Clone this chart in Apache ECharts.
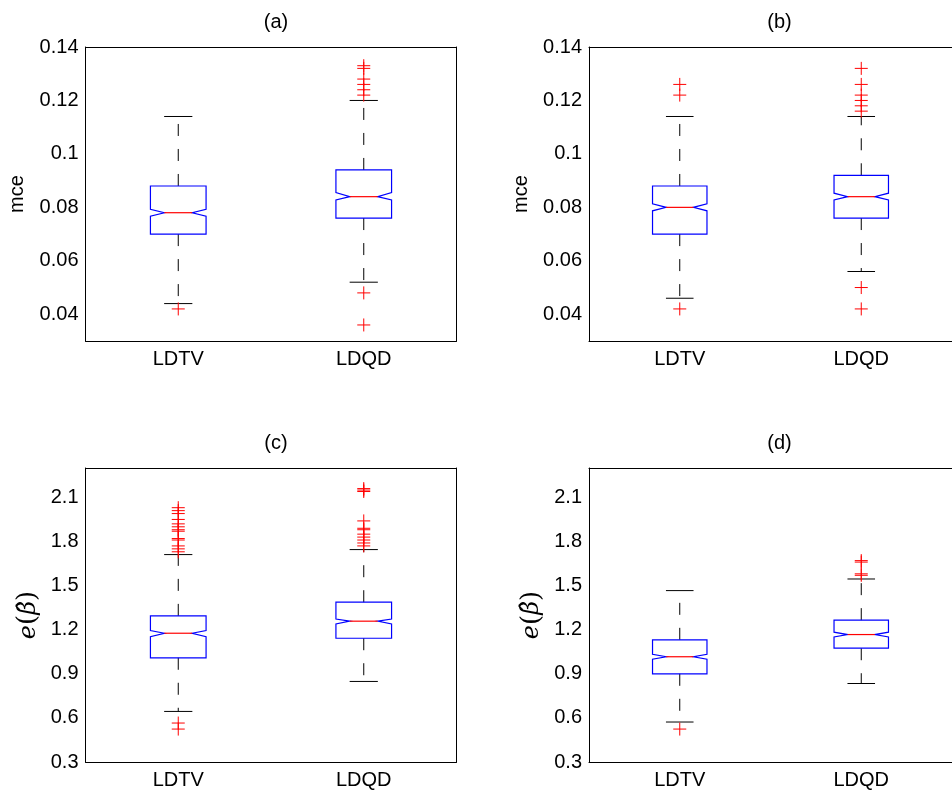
<!DOCTYPE html>
<html>
<head>
<meta charset="utf-8">
<script src="https://cdn.jsdelivr.net/npm/echarts@6/dist/echarts.min.js"></script>
<style>
  html, body { margin: 0; padding: 0; background: #fff; }
  #chart { width: 952px; height: 796px; }
</style>
</head>
<body>
<div id="chart"></div>
<script>
const categories = ['LDTV', 'LDQD'];

// box stats per category: [lowerWhisker, q1, notchLow, median, notchHigh, q3, upperWhisker]
const boxA = [
  [0.044, 0.070, 0.0767, 0.078, 0.0793, 0.088, 0.114],
  [0.052, 0.076, 0.0828, 0.084, 0.0855, 0.094, 0.120]
];
const boxB = [
  [0.046, 0.070, 0.0787, 0.080, 0.0813, 0.088, 0.114],
  [0.056, 0.076, 0.0828, 0.084, 0.0853, 0.092, 0.114]
];
const boxC = [
  [0.644, 1.009, 1.153, 1.176, 1.194, 1.294, 1.711],
  [0.848, 1.142, 1.239, 1.258, 1.273, 1.387, 1.745]
];
const boxD = [
  [0.572, 0.900, 0.999, 1.016, 1.033, 1.131, 1.466],
  [0.834, 1.074, 1.151, 1.167, 1.183, 1.265, 1.545]
];

// outliers: [categoryIndex, value]
const outA = [[0, 0.042], [1, 0.133], [1, 0.132], [1, 0.128], [1, 0.126], [1, 0.124], [1, 0.122], [1, 0.048], [1, 0.036]];
const outB = [[0, 0.126], [0, 0.122], [0, 0.042], [1, 0.132], [1, 0.126], [1, 0.122], [1, 0.120], [1, 0.118], [1, 0.116], [1, 0.050], [1, 0.042]];
const outC = [
  [0, 2.03], [0, 2.01], [0, 1.99], [0, 1.95], [0, 1.92], [0, 1.90], [0, 1.88], [0, 1.87], [0, 1.82], [0, 1.81], [0, 1.77], [0, 1.75], [0, 1.73],
  [0, 0.565], [0, 0.524],
  [1, 2.16], [1, 2.15], [1, 2.14], [1, 1.94], [1, 1.89], [1, 1.88], [1, 1.85], [1, 1.83], [1, 1.81], [1, 1.79], [1, 1.77]
];
const outD = [[0, 0.524], [1, 1.67], [1, 1.66], [1, 1.58], [1, 1.57]];

const mceTicks = [0.04, 0.06, 0.08, 0.1, 0.12, 0.14];
const betaTicks = [0.3, 0.6, 0.9, 1.2, 1.5, 1.8, 2.1];

const betaName = '{i|e}{r|(}{i|β̂}{r|)}';

const panels = [
  { title: '(a)', box: boxA, out: outA, yName: 'mce', yMin: 0.03, yMax: 0.14, ticks: mceTicks, left: 85.5, top: 47 },
  { title: '(b)', box: boxB, out: outB, yName: 'mce', yMin: 0.03, yMax: 0.14, ticks: mceTicks, left: 589, top: 47 },
  { title: '(c)', box: boxC, out: outC, yName: betaName, yMin: 0.3, yMax: 2.3, ticks: betaTicks, left: 85.5, top: 468 },
  { title: '(d)', box: boxD, out: outD, yName: betaName, yMin: 0.3, yMax: 2.3, ticks: betaTicks, left: 589, top: 468 }
];
const plotW = 371, plotH = 294;

const font = 'Liberation Sans, Arial, sans-serif';
const serif = 'DejaVu Serif, Liberation Serif, serif';
const fmt = v => String(parseFloat(Number(v).toFixed(4)));

function renderBox(params, api) {
  const c = api.value(0);
  const lw = api.value(1), q1 = api.value(2), nlo = api.value(3), med = api.value(4);
  const nhi = api.value(5), q3 = api.value(6), uw = api.value(7);
  const band = api.size([1, 0])[0];
  const h = band * 0.15, cap = band * 0.076;
  const x = api.coord([c, med])[0];
  const y = v => api.coord([c, v])[1];
  const black = { stroke: '#000', lineWidth: 1 };
  const dashed = { stroke: '#000', lineWidth: 1, lineDash: [12, 13] };
  return {
    type: 'group',
    children: [
      { type: 'line', shape: { x1: x, y1: y(q3), x2: x, y2: y(uw) }, style: dashed },
      { type: 'line', shape: { x1: x, y1: y(q1), x2: x, y2: y(lw) }, style: dashed },
      { type: 'line', shape: { x1: x - cap, y1: y(uw), x2: x + cap, y2: y(uw) }, style: black },
      { type: 'line', shape: { x1: x - cap, y1: y(lw), x2: x + cap, y2: y(lw) }, style: black },
      {
        type: 'polygon',
        shape: {
          points: [
            [x - h, y(q3)], [x + h, y(q3)], [x + h, y(nhi)], [x + h / 2, y(med)], [x + h, y(nlo)],
            [x + h, y(q1)], [x - h, y(q1)], [x - h, y(nlo)], [x - h / 2, y(med)], [x - h, y(nhi)]
          ]
        },
        style: { fill: 'none', stroke: '#0000ff', lineWidth: 1.2 }
      },
      { type: 'line', shape: { x1: x - h / 2, y1: y(med), x2: x + h / 2, y2: y(med) }, style: { stroke: '#ff0000', lineWidth: 1.2 } }
    ]
  };
}

function renderPlus(params, api) {
  const p = api.coord([api.value(0), api.value(1)]);
  const s = 6.5;
  const st = { stroke: '#ff0000', lineWidth: 1 };
  return {
    type: 'group',
    children: [
      { type: 'line', shape: { x1: p[0] - s, y1: p[1], x2: p[0] + s, y2: p[1] }, style: st },
      { type: 'line', shape: { x1: p[0], y1: p[1] - s, x2: p[0], y2: p[1] + s }, style: st }
    ]
  };
}

const chart = echarts.init(document.getElementById('chart'));

const option = {
  animation: false,
  backgroundColor: '#fff',
  title: [],
  grid: [],
  xAxis: [],
  yAxis: [],
  series: []
};

panels.forEach((p, i) => {
  option.title.push({
    text: p.title,
    left: p.left + plotW / 2,
    top: i >= 2 ? 428 : 7,
    textAlign: 'center',
    textStyle: { fontFamily: font, fontSize: 20, fontWeight: 'normal', color: '#000' }
  });

  option.grid.push({ left: p.left, top: p.top, width: plotW, height: plotH, containLabel: false });

  const lineStyle = { color: '#000', width: 1 };
  option.xAxis.push({
    type: 'category', gridIndex: i, data: categories, position: 'bottom',
    axisLine: { lineStyle },
    axisTick: { alignWithLabel: true, inside: true, length: 5, lineStyle },
    axisLabel: { fontFamily: font, fontSize: 20, color: '#000', margin: 8 },
    splitLine: { show: false }
  });
  option.xAxis.push({
    type: 'category', gridIndex: i, data: categories, position: 'top',
    axisLine: { lineStyle },
    axisTick: { alignWithLabel: true, inside: true, length: 5, lineStyle },
    axisLabel: { show: false },
    splitLine: { show: false }
  });

  const isBeta = p.yName === betaName;
  option.yAxis.push({
    type: 'value', gridIndex: i, position: 'left', min: p.yMin, max: p.yMax,
    name: p.yName, nameLocation: 'middle', nameRotate: 90,
    nameGap: isBeta ? 44 : 58,
    nameTextStyle: isBeta ? {
      fontSize: 24, color: '#000',
      rich: {
        i: { fontFamily: serif, fontStyle: 'italic', fontSize: 24, color: '#000' },
        r: { fontFamily: serif, fontSize: 26, color: '#000' }
      }
    } : { fontFamily: font, fontSize: 20, color: '#000' },
    axisLine: { show: true, lineStyle },
    axisTick: { inside: true, length: 4, lineStyle, customValues: p.ticks },
    axisLabel: { fontFamily: font, fontSize: 20, color: '#000', margin: 7, customValues: p.ticks, formatter: fmt },
    splitLine: { show: false }
  });
  option.yAxis.push({
    type: 'value', gridIndex: i, position: 'right', min: p.yMin, max: p.yMax,
    axisLine: { show: true, lineStyle },
    axisTick: { inside: true, length: 4, lineStyle, customValues: p.ticks },
    axisLabel: { show: false },
    splitLine: { show: false }
  });

  option.series.push({
    type: 'custom',
    xAxisIndex: 2 * i, yAxisIndex: 2 * i,
    renderItem: renderBox,
    data: p.box.map((b, k) => [k].concat(b)),
    silent: true
  });
  option.series.push({
    type: 'custom',
    xAxisIndex: 2 * i, yAxisIndex: 2 * i,
    renderItem: renderPlus,
    data: p.out,
    silent: true
  });
});

chart.setOption(option);
</script>
</body>
</html>
